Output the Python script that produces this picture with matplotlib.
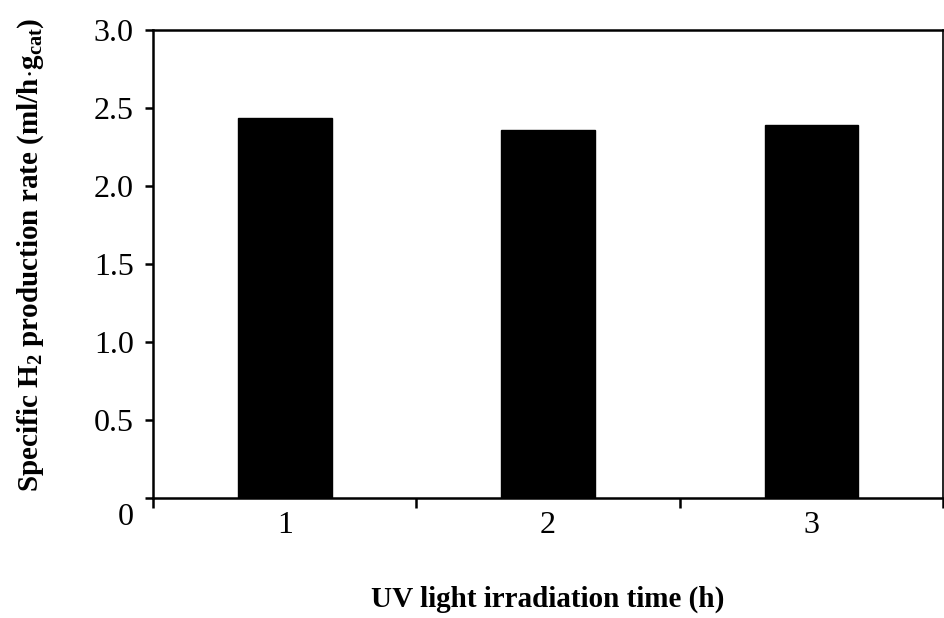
import numpy as np
from matplotlib import pyplot as plt
from matplotlib import transforms
from matplotlib.ticker import FixedLocator, NullFormatter

plt.rcParams.update({"font.family": "serif", "font.serif": ["Liberation Serif"],
                     "mathtext.fontset": "custom", "mathtext.rm": "Liberation Serif",
                     "mathtext.bf": "Liberation Serif:bold"})

hours = [1, 2, 3]
rates = [2.44, 2.36, 2.39]
hour_labels = ["1", "2", "3"]
yticks = [0, 0.5, 1.0, 1.5, 2.0, 2.5, 3.0]
ytick_labels = ["0", "0.5", "1.0", "1.5", "2.0", "2.5", "3.0"]

fig = plt.figure(figsize=(9.45, 6.18), dpi=100)
ax = fig.add_axes([0.162, 0.194, 0.836, 0.757])

ax.bar(hours, rates, width=0.355, color="black", edgecolor="black")

ax.set_xlim(0.5, 3.5)
ax.set_ylim(0, 3.0)

ax.set_xticks(hours)
ax.set_xticklabels(hour_labels, fontsize=23)
ax.xaxis.set_minor_locator(FixedLocator([0.5, 1.5, 2.5, 3.5]))
ax.xaxis.set_minor_formatter(NullFormatter())
ax.tick_params(axis="x", which="major", length=0, pad=9)
ax.tick_params(axis="x", which="minor", length=7, width=1.8, direction="out")

ax.set_yticks(yticks)
ax.set_yticklabels(ytick_labels, fontsize=23)
ax.tick_params(axis="y", length=6, width=1.8, direction="out", pad=8)

# the zero label sits a little below the axis line
zero_lab = ax.get_yticklabels()[0]
zero_lab.set_transform(zero_lab.get_transform() +
                       transforms.ScaledTranslation(0, -16 / 100, fig.dpi_scale_trans))

for side in ["left", "bottom", "top"]:
    ax.spines[side].set_linewidth(1.8)
ax.spines["right"].set_linewidth(1.2)

ax.set_xlabel("UV light irradiation time (h)", fontsize=21, fontweight="bold", labelpad=33)
ax.set_ylabel(r"Specific H$_\mathbf{2}$ production rate (ml/h$\cdot$g$_\mathbf{cat}$)",
              fontsize=21, fontweight="bold")
ax.yaxis.set_label_coords(-0.135, 0.52)

fig.savefig("out.png", dpi=100)
